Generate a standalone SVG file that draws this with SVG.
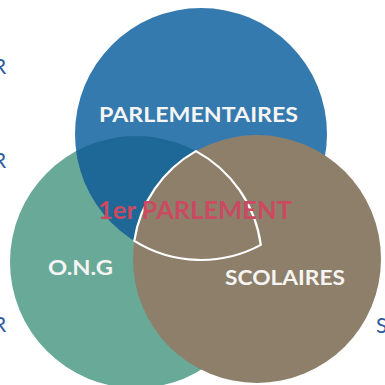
<svg xmlns="http://www.w3.org/2000/svg" width="385" height="385" viewBox="0 0 385 385">
  <style>
    .lbl { font-family: Lato, "Liberation Sans", Arial, sans-serif; font-weight: bold; font-size: 21px; fill: #f5f5f3; }
    .center { font-family: Lato, "Liberation Sans", Arial, sans-serif; font-weight: bold; font-size: 24.5px; fill: #cb4a62; }
    .edge { font-family: Lato, "Liberation Sans", Arial, sans-serif; font-size: 21px; fill: #2f5a9c; }
  </style>
  <defs>
    <clipPath id="clipTeal">
      <circle cx="136" cy="262" r="126"/>
    </clipPath>
  </defs>
  <rect width="385" height="385" fill="#ffffff"/>
  <text class="edge" x="-7" y="74">R</text>
  <text class="edge" x="-7" y="168">R</text>
  <text class="edge" x="-7" y="332">R</text>
  <text class="edge" x="376" y="333">S</text>

  <g id="ong">
    <circle cx="136" cy="262" r="126" fill="#69a997"/>
  </g>
  <g id="parlementaires">
    <circle cx="201" cy="134" r="126" fill="#357aaf"/>
    <circle cx="201" cy="134" r="126" fill="#1d6897" clip-path="url(#clipTeal)"/>
  </g>
  <g id="scolaires">
    <circle cx="257" cy="259" r="124" fill="#8e7f6b"/>
  </g>
  <g id="connectors">
    <path d="M195.9,151.1 A124,124 0 0 0 134.3,240.9 A126,126 0 0 0 260.8,244.9 A126,126 0 0 0 195.9,151.1 Z" fill="none" stroke="#ffffff" stroke-width="2.2" stroke-linejoin="round"/>
  </g>
  <g id="labels">
    <text class="lbl" x="99" y="122" textLength="199" lengthAdjust="spacingAndGlyphs">PARLEMENTAIRES</text>
    <text class="lbl" x="48" y="275" textLength="65" lengthAdjust="spacingAndGlyphs">O.N.G</text>
    <text class="lbl" x="225" y="285" textLength="120" lengthAdjust="spacingAndGlyphs">SCOLAIRES</text>
    <text class="center" x="98" y="219" textLength="194" lengthAdjust="spacingAndGlyphs">1er PARLEMENT</text>
  </g>
</svg>
